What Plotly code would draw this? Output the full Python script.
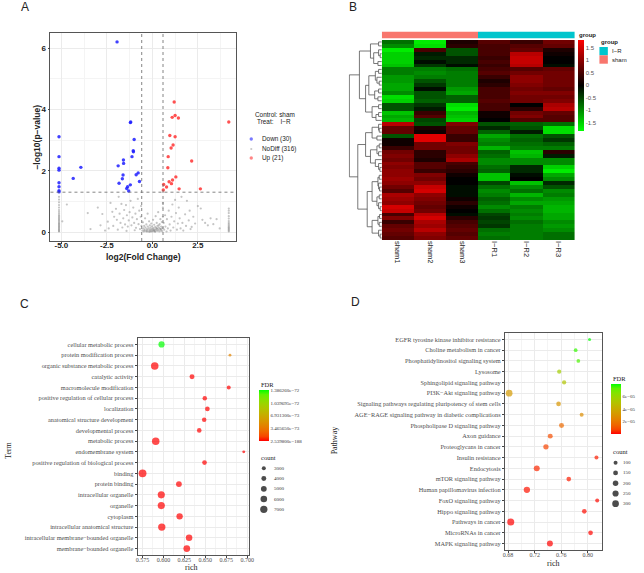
import plotly.graph_objects as go

W, H = 644, 573

# ---------------- Panel A: volcano data ----------------
down_x = [-1.94, -5.13, -5.13, -5.13, -5.13, -5.13, -5.13, -5.13, -5.13, -3.93, -4.35, -1.21, -1.19, -1.0, -1.05,
          -1.04, -1.12, -1.59, -1.58, -1.88, -1.61, -1.65, -0.78, -0.89, -0.71, -1.83, -1.21, -1.36, -1.41, -1.30]
down_y = [6.2, 3.11, 2.46, 2.08, 2.02, 1.61, 1.48, 1.35, 1.31, 2.11, 1.75, 3.57, 3.59, 3.02, 2.65,
          2.62, 2.46, 2.35, 2.24, 2.16, 1.86, 1.74, 1.93, 1.87, 1.65, 1.59, 1.54, 1.48, 1.42, 1.34]
up_x = [1.20, 1.25, 1.09, 1.43, 4.20, 0.96, 1.25, 1.14, 1.03, 0.87, 2.16, 0.85, 1.29, 1.11, 0.92, 0.62, 1.05,
        0.78, 0.60, 1.47, 2.64]
up_y = [4.24, 3.80, 3.74, 3.72, 3.59, 3.15, 3.11, 2.84, 2.74, 2.46, 2.32, 2.10, 1.80, 1.70, 1.64, 1.55, 1.58,
        1.47, 1.37, 1.41, 1.41]
nodiff_x = [-5.13] * 25 + [4.2] * 15 + [
    -4.7, -4.95, -3.55, -3.4, -3.0, -2.85, -2.75, -2.6, -2.45, -2.4, -2.3, -2.2, -2.15, -2.1, -2.0, -1.95, -1.9,
    -1.85, -1.8, -1.75, -1.7, -1.65, -1.6, -1.55, -1.5, -1.45, -1.42, -1.4, -1.35, -1.3, -1.25, -1.2, -1.15, -1.1,
    -1.05, -1.0, -0.97, -0.93, -0.9, -0.85, -0.8, -0.76, -0.72, -0.68, -0.64, -0.62, -0.6,
    -0.55, -0.52, -0.5, -0.47, -0.45, -0.42, -0.4, -0.38, -0.35, -0.33, -0.3, -0.28, -0.26, -0.25, -0.22, -0.2,
    -0.18, -0.16, -0.14, -0.12, -0.1, -0.08, -0.06, -0.04, -0.02, 0.0, 0.02, 0.04, 0.06, 0.08, 0.1, 0.12, 0.14,
    0.16, 0.18, 0.2, 0.22, 0.24, 0.26, 0.28, 0.3, 0.32, 0.34, 0.36, 0.38, 0.4, 0.42, 0.44, 0.46, 0.48, 0.5, 0.52,
    0.54, 0.56, 0.58, 0.58, 0.58,
    -0.3, -0.15, 0.05, 0.15, 0.25, 0.35, 0.45, -0.45, -0.05, 0.1,
    0.62, 0.65, 0.7, 0.72, 0.78, 0.8, 0.85, 0.9, 0.95, 1.0, 1.05, 1.1, 1.15, 1.2, 1.25, 1.3, 1.35, 1.4, 1.45,
    1.5, 1.55, 1.6, 1.65, 1.7, 1.8, 1.85, 1.9, 2.0, 2.05, 2.1, 2.16, 2.25, 2.35, 2.5, 2.66, 2.75, 2.9, 3.05,
    3.2, 3.35, 3.53, 3.7]
nodiff_y = [0.02, 0.04, 0.07, 0.1, 0.13, 0.16, 0.19, 0.22, 0.25, 0.28, 0.31, 0.35, 0.39, 0.43, 0.47, 0.51, 0.55,
            0.6, 0.66, 0.72, 0.8, 0.88, 0.97, 1.06, 1.15] + [
    0.02, 0.05, 0.08, 0.11, 0.14, 0.17, 0.21, 0.25, 0.3, 0.36, 0.44, 0.52, 0.62, 0.7, 0.77] + [
    0.9, 0.35, 0.62, 0.1, 0.8, 0.22, 0.59, 0.05, 0.34, 0.12, 0.95, 0.66, 0.2, 0.5, 0.76, 0.4, 0.08,
    1.15, 0.6, 0.3, 0.92, 0.15, 0.45, 0.72, 0.25, 0.88, 0.04, 0.55, 0.18, 0.38, 0.65, 1.02, 0.22, 0.48,
    0.8, 0.3, 0.06, 0.6, 0.14, 0.42, 1.08, 0.26, 0.7, 0.1, 0.5, 0.85, 0.2,
    0.05, 0.32, 0.12, 0.02, 0.2, 0.08, 0.45, 0.15, 0.03, 0.25, 0.1, 0.06, 0.6, 0.18, 0.02, 0.12,
    0.35, 0.07, 0.22, 0.03, 0.15, 0.09, 0.28, 0.05, 0.19, 0.11, 0.02, 0.4, 0.14, 0.06, 0.24, 0.09, 0.03,
    0.17, 0.52, 0.08, 0.13, 0.3, 0.04, 0.2, 0.1, 0.65, 0.06, 0.15, 0.02, 0.26, 0.11, 0.42, 0.05, 0.18, 0.09, 0.33,
    0.03, 0.14, 0.8, 0.5, 0.95,
    0.02, 0.01, 0.07, 0.01, 0.12, 0.22, 0.1, 0.05, 0.02, 0.04,
    0.3, 0.08, 0.55, 0.18, 0.02, 0.42, 0.12, 0.7, 0.25, 0.05, 0.5, 0.9, 0.15, 0.35, 1.05, 0.62, 0.08, 0.28, 0.8,
    0.45, 0.12, 1.15, 0.3, 0.05, 0.58, 0.2, 1.02, 0.38, 0.7, 0.1, 0.17, 0.5, 0.28, 0.85, 0.77, 0.4, 0.3, 0.22,
    0.45, 0.26, 0.42, 0.12]
n_down, n_nodiff, n_up = 30, 316, 21
fc_cut = 0.585
p_cut = 1.301

# ---------------- Panel B: heatmap data ----------------
samples = ["sham1", "sham2", "sham3", "I\u2212R1", "I\u2212R2", "I\u2212R3"]
groups = ["sham", "sham", "sham", "I\u2212R", "I\u2212R", "I\u2212R"]
heat = [
    [-0.8, -1.7, 0.2, 0.6, 0.4, 0.8],
    [-1.0, -1.6, 0.3, 0.5, 0.6, 0.7],
    [-1.7, 0.5, -0.6, 0.5, 0.7, 0.2],
    [-1.5, -0.2, -0.6, 0.5, 1.3, 0.1],
    [-1.5, -0.3, -0.3, 0.4, 1.4, 0.0],
    [-1.5, -0.1, -0.3, 0.5, 1.4, 0.0],
    [-1.4, -0.4, -0.1, 0.4, 1.3, -0.1],
    [-0.9, -0.9, -0.8, 0.5, 0.6, 0.7],
    [-0.9, -1.0, -0.9, 0.6, 0.8, 0.8],
    [-1.1, -0.9, -0.9, 0.4, 1.0, 0.8],
    [-1.1, -0.6, -0.9, 0.2, 1.0, 0.8],
    [-1.2, -0.4, -0.9, 0.3, 0.9, 0.8],
    [-1.2, -0.1, -1.1, 0.5, 0.8, 0.7],
    [-1.0, -0.6, -1.2, 0.5, 0.9, 0.9],
    [-1.6, -0.6, -0.7, 0.5, 0.8, 0.8],
    [-1.5, -0.7, -0.7, 0.6, 0.8, 0.9],
    [-0.6, -0.4, -1.6, 0.5, 0.0, 1.2],
    [-0.6, -0.2, -1.7, 0.5, 0.3, 1.3],
    [-1.4, 0.4, -1.3, 0.1, 0.8, 0.7],
    [-1.2, 0.6, -1.4, 0.1, 0.9, 0.6],
    [-1.3, -0.5, -1.5, 0.0, 0.6, 0.6],
    [1.3, -0.6, 0.9, -0.6, -0.7, -0.8],
    [0.7, 0.2, 0.7, -0.3, -0.6, -1.6],
    [0.7, 0.1, 0.7, -0.7, -0.2, -1.6],
    [-0.6, 1.6, 0.4, -1.2, -0.8, -0.6],
    [0.1, 1.6, 0.4, -1.0, -0.7, -0.4],
    [0.1, 0.8, 0.9, -0.9, -0.8, -0.7],
    [0.4, 0.8, 0.8, -1.3, -0.9, -0.9],
    [0.8, 0.3, 0.8, -0.7, -1.4, 0.3],
    [0.9, 0.3, 1.0, -0.8, -1.3, -0.2],
    [0.8, 0.2, 1.2, -1.0, -1.0, -1.0],
    [1.0, 0.6, 0.5, -1.0, -1.0, -1.0],
    [0.9, 0.6, 0.4, -0.8, -0.3, -1.5],
    [1.0, 0.4, 0.3, -0.7, -0.3, -1.7],
    [1.0, 0.9, 0.1, -1.4, -0.1, -1.2],
    [1.1, 0.8, 0.0, -1.4, 0.0, -1.0],
    [1.0, 1.0, 0.0, -0.5, -1.4, -0.3],
    [0.8, 1.4, -0.1, -0.8, -1.0, -0.6],
    [0.6, 1.5, -0.1, -1.0, -0.8, -1.0],
    [1.2, 1.0, -0.1, -0.9, -1.3, -0.9],
    [1.1, 0.9, 0.1, -0.7, -1.0, -1.1],
    [1.0, 0.8, 0.3, -0.8, -1.2, -1.2],
    [1.5, 0.7, 0.1, -1.0, -0.9, -1.3],
    [1.4, 0.8, 0.0, -0.8, -1.0, -1.3],
    [0.5, 1.3, -0.1, -0.5, -0.9, -1.2],
    [0.9, 1.5, 0.3, -0.4, -1.0, -1.2],
    [0.4, 1.2, 0.5, -0.5, -0.8, -1.0],
    [0.7, 1.1, 0.6, -0.4, -0.9, -1.1],
    [0.8, 1.3, 0.7, -0.8, -0.9, -1.0],
    [0.7, 1.0, 0.6, -0.9, -0.9, -0.8],
    [0.6, 0.9, 0.7, -0.8, -0.9, -0.8],
]
heat_min, heat_max = -1.83, 1.81
heat_ticks = [-1.5, -1.0, -0.5, 0.0, 0.5, 1.0, 1.5]
heat_ticktext = ["-1.5", "-1", "-0.5", "0", "0.5", "1", "1.5"]
# row dendrogram (height, left, right); leaves are row indices
tree_up = (0.69,
           (0.35, (0.1, 0, 1), (0.25, (0.1, 2, (0.05, 3, 4)), (0.12, 5, 6))),
           (0.5,
            (0.4, (0.2, (0.1, 7, 8), (0.15, 9, (0.08, 10, 11))), (0.22, (0.1, 12, 13), (0.12, 14, 15))),
            (0.3, (0.1, 16, 17), (0.18, (0.1, 18, 19), 20))))
tree_down = (0.74,
             (0.5,
              (0.3, (0.1, 21, (0.08, 22, 23)), (0.15, 24, 25)),
              (0.35, (0.15, (0.08, 26, 27), (0.1, 28, 29)), (0.2, 30, (0.1, 31, (0.06, 32, 33))))),
             (0.45,
              (0.3, (0.12, (0.08, 34, 35), (0.1, 36, (0.07, 37, 38))),
               (0.15, (0.08, 39, 40), (0.1, 41, (0.05, 42, 43)))),
              (0.3, (0.12, (0.07, 44, 45), (0.08, 46, 47)), (0.1, 48, (0.05, 49, 50)))))
tree = (1.0, tree_up, tree_down)

# ---------------- Panel C: GO enrichment ----------------
terms = ["cellular metabolic process", "protein modification process", "organic substance metabolic process",
         "catalytic activity", "macromolecule modification", "positive regulation of cellular process",
         "localization", "anatomical structure development", "developmental process", "metabolic process",
         "endomembrane system", "positive regulation of biological process", "binding", "protein binding",
         "intracellular organelle", "organelle", "cytoplasm", "intracellular anatomical structure",
         "intracellular membrane\u2212bounded organelle", "membrane\u2212bounded organelle"]
go_rich = [0.5978, 0.6793, 0.5897, 0.6341, 0.6778, 0.6493, 0.6524, 0.6486, 0.6427, 0.5909,
           0.6957, 0.6490, 0.5752, 0.6185, 0.5975, 0.5975, 0.6193, 0.5981, 0.6306, 0.6279]
go_count = [5500, 2000, 7300, 4000, 3000, 3500, 3700, 3500, 3600, 7300,
            2100, 3700, 7800, 5000, 6800, 6800, 5700, 7100, 5900, 6200]
go_fdr = [1.38626e-72, 4.2e-73, 1e-150, 1e-95, 1e-90, 1e-100, 1e-98, 1e-97, 1e-96, 1e-160,
          1e-80, 1e-110, 2.5398e-188, 1e-140, 1e-170, 1e-168, 1e-130, 1e-172, 1e-150, 1e-155]
go_fdr_breaks = [2.5398e-188, 3.46565e-73, 6.9313e-73, 1.039695e-72, 1.38626e-72]
go_fdr_labels = ["2.539800e\u2212188", "3.465650e\u221273", "6.931300e\u221273", "1.039695e\u221272",
                 "1.386260e\u221272"]
go_count_breaks = [3000, 4000, 5000, 6000, 7000]
go_ticks = [0.575, 0.600, 0.625, 0.650, 0.675, 0.700]

# ---------------- Panel D: KEGG enrichment ----------------
pathways = ["EGFR tyrosine kinase inhibitor resistance", "Choline metabolism in cancer",
            "Phosphatidylinositol signaling system", "Lysosome", "Sphingolipid signaling pathway",
            "PI3K\u2212Akt signaling pathway", "Signaling pathways regulating pluripotency of stem cells",
            "AGE\u2212RAGE signaling pathway in diabetic complications", "Phospholipase D signaling pathway",
            "Axon guidance", "Proteoglycans in cancer", "Insulin resistance", "Endocytosis",
            "mTOR signaling pathway", "Human papillomavirus infection", "FoxO signaling pathway",
            "Hippo signaling pathway", "Pathways in cancer", "MicroRNAs in cancer", "MAPK signaling pathway"]
kegg_rich = [0.8027, 0.7818, 0.7858, 0.7570, 0.7644, 0.6816, 0.7560, 0.7908, 0.7605, 0.7435,
             0.7370, 0.8131, 0.7232, 0.7714, 0.7083, 0.8142, 0.7948, 0.6840, 0.8042, 0.7430]
kegg_count = [55, 85, 85, 115, 115, 300, 140, 100, 160, 160, 185, 100, 235, 140, 265, 100, 140, 330, 140, 235]
kegg_fdr = [7.97e-5, 7.6e-5, 7.4e-5, 5.6e-5, 5.1e-5, 3.3e-5, 3.1e-5, 2.8e-5, 1.6e-5, 9e-6,
            7e-6, 3e-6, 4e-6, 3e-6, 2e-6, 1e-6, 1.2e-6, 1e-7, 5e-7, 2e-7]
kegg_fdr_breaks = [2e-5, 4e-5, 6e-5]
kegg_fdr_labels = ["2e\u221205", "4e\u221205", "6e\u221205"]
kegg_count_breaks = [100, 150, 200, 250, 300]
kegg_ticks = [0.68, 0.72, 0.76, 0.80]


# ---------------- helpers ----------------
def dx(x0, x1):
    return [x0 / W, x1 / W]


def dy(y0, y1):
    return [1 - y1 / H, 1 - y0 / H]


def px(x):
    return x / W


def py(y):
    return 1 - y / H


def _to_lab(hexc):
    r, g, b = [int(hexc[i:i + 2], 16) / 255 for i in (1, 3, 5)]

    def lin(c):
        return c / 12.92 if c <= 0.04045 else ((c + 0.055) / 1.055) ** 2.4
    r, g, b = lin(r), lin(g), lin(b)
    X = 0.4124 * r + 0.3576 * g + 0.1805 * b
    Y = 0.2126 * r + 0.7152 * g + 0.0722 * b
    Z = 0.0193 * r + 0.1192 * g + 0.9505 * b

    def f(t):
        return t ** (1 / 3) if t > 0.008856 else 7.787 * t + 16 / 116
    fx_, fy_, fz_ = f(X / 0.95047), f(Y), f(Z / 1.08883)
    return 116 * fy_ - 16, 500 * (fx_ - fy_), 200 * (fy_ - fz_)


def _from_lab(L, a, b):
    fy_ = (L + 16) / 116
    fx_ = fy_ + a / 500
    fz_ = fy_ - b / 200

    def finv(t):
        return t ** 3 if t ** 3 > 0.008856 else (t - 16 / 116) / 7.787
    X, Y, Z = 0.95047 * finv(fx_), finv(fy_), 1.08883 * finv(fz_)
    r = 3.2406 * X - 1.5372 * Y - 0.4986 * Z
    g = -0.9689 * X + 1.8758 * Y + 0.0415 * Z
    bb = 0.0557 * X - 0.2040 * Y + 1.0570 * Z

    def gam(c):
        c = min(max(c, 0), 1)
        return 12.92 * c if c <= 0.0031308 else 1.055 * c ** (1 / 2.4) - 0.055
    return "rgb(%d,%d,%d)" % tuple(round(gam(c) * 255) for c in (r, g, bb))


def lab_scale(lo, hi, n=12):
    l1, l2 = _to_lab(lo), _to_lab(hi)
    out = []
    for i in range(n):
        t = i / (n - 1)
        out.append([t, _from_lab(*[l1[k] + (l2[k] - l1[k]) * t for k in range(3)])])
    return out


def sqrt_size(vals, ref_lo, ref_hi, d_lo, d_hi):
    a, b = ref_lo ** 0.5, ref_hi ** 0.5
    return [d_lo + (d_hi - d_lo) * (v ** 0.5 - a) / (b - a) for v in vals]


def dendro(node, xs, ys):
    if isinstance(node, int):
        return float(node), 0.0
    h, L, R = node
    yl, hl = dendro(L, xs, ys)
    yr, hr = dendro(R, xs, ys)
    xs += [hl, h, h, hr, None]
    ys += [yl, yl, yr, yr, None]
    return (yl + yr) / 2, h


fdr_scale = lab_scale("#FF0000", "#00FF00")
SANS = "Liberation Sans, Arial, sans-serif"
SERIF = "Liberation Serif, Times New Roman, serif"

fig = go.Figure()

# ---- A ----
fig.add_trace(go.Scatter(x=nodiff_x, y=nodiff_y, mode="markers", xaxis="x", yaxis="y",
                         marker=dict(size=2.2, color="rgba(140,140,140,0.5)", line=dict(width=0))))
fig.add_trace(go.Scatter(x=down_x, y=down_y, mode="markers", xaxis="x", yaxis="y",
                         marker=dict(size=3.4, color="rgba(30,30,255,0.85)", line=dict(width=0))))
fig.add_trace(go.Scatter(x=up_x, y=up_y, mode="markers", xaxis="x", yaxis="y",
                         marker=dict(size=3.4, color="rgba(255,50,50,0.85)", line=dict(width=0))))

# ---- B ----
fig.add_trace(go.Heatmap(z=heat, x=samples, y=list(range(len(heat))), xaxis="x2", yaxis="y2",
                         colorscale=[[0, "#00FF00"], [0.5, "#000000"], [1, "#FF0000"]],
                         zmin=heat_min, zmax=heat_max,
                         colorbar=dict(x=px(582), xanchor="left", y=py(40), yanchor="top",
                                       len=91, lenmode="pixels", thickness=6, outlinewidth=0,
                                       xpad=0, ypad=0, ticks="", tickvals=heat_ticks,
                                       ticktext=heat_ticktext,
                                       tickfont=dict(family=SANS, size=6, color="#555"))))
group_code = [[0 if g == "sham" else 1 for g in groups]]
fig.add_trace(go.Heatmap(z=group_code, x=samples, y=[0], xaxis="x2", yaxis="y4", showscale=False,
                         zmin=0, zmax=1,
                         colorscale=[[0, "#F8766D"], [0.5, "#F8766D"], [0.5, "#00C5CD"], [1, "#00C5CD"]]))
dxs, dys = [], []
dendro(tree, dxs, dys)
fig.add_trace(go.Scatter(x=dxs, y=dys, mode="lines", xaxis="x3", yaxis="y3",
                         line=dict(color="#555", width=0.8)))

# ---- C ----
fig.add_trace(go.Scatter(x=go_rich, y=terms, mode="markers", xaxis="x5", yaxis="y5",
                         marker=dict(size=sqrt_size(go_count, 3000, 7000, 4.0, 7.3), color=go_fdr,
                                     colorscale=fdr_scale, cmin=min(go_fdr), cmax=max(go_fdr),
                                     line=dict(width=0), showscale=True,
                                     colorbar=dict(x=px(260), xanchor="left", y=py(390), yanchor="top",
                                                   len=51, lenmode="pixels", thickness=10, outlinewidth=0,
                                                   xpad=0, ypad=0, ticks="", tickvals=go_fdr_breaks,
                                                   ticktext=go_fdr_labels,
                                                   tickfont=dict(family=SERIF, size=5, color="#333")))))

# ---- D ----
fig.add_trace(go.Scatter(x=kegg_rich, y=pathways, mode="markers", xaxis="x6", yaxis="y6",
                         marker=dict(size=sqrt_size(kegg_count, 100, 300, 4.0, 6.7), color=kegg_fdr,
                                     colorscale=fdr_scale, cmin=min(kegg_fdr), cmax=max(kegg_fdr),
                                     line=dict(width=0), showscale=True,
                                     colorbar=dict(x=px(616), xanchor="left", y=py(384), yanchor="top",
                                                   len=50, lenmode="pixels", thickness=10, outlinewidth=0,
                                                   xpad=0, ypad=0, ticks="", tickvals=kegg_fdr_breaks,
                                                   ticktext=kegg_fdr_labels,
                                                   tickfont=dict(family=SERIF, size=5, color="#333")))))

# ---- legends drawn on a pixel overlay ----
leg_y_A = [139, 149, 158]
fig.add_trace(go.Scatter(x=[252] * 3, y=leg_y_A, mode="markers", xaxis="x7", yaxis="y7",
                         marker=dict(size=[3.4, 2.2, 3.4],
                                     color=["rgba(30,30,255,0.85)", "rgba(140,140,140,0.7)",
                                            "rgba(255,50,50,0.85)"], line=dict(width=0))))
c_leg_y = [468.3 + 10.25 * i for i in range(len(go_count_breaks))]
fig.add_trace(go.Scatter(x=[264.7] * len(go_count_breaks), y=c_leg_y, mode="markers", xaxis="x7", yaxis="y7",
                         marker=dict(size=sqrt_size(go_count_breaks, 3000, 7000, 4.0, 7.3), color="black",
                                     line=dict(width=0))))
d_leg_y = [462.7 + 10.25 * i for i in range(len(kegg_count_breaks))]
fig.add_trace(go.Scatter(x=[620.3] * len(kegg_count_breaks), y=d_leg_y, mode="markers", xaxis="x7", yaxis="y7",
                         marker=dict(size=sqrt_size(kegg_count_breaks, 100, 300, 4.0, 6.7), color="black",
                                     line=dict(width=0))))

grid_c = "#EBEBEB"
minor_c = "#F4F4F4"
border_c = "#555555"

common_x = dict(showline=True, mirror=True, linecolor=border_c, linewidth=0.8, zeroline=False,
                ticks="outside", ticklen=2, tickcolor="#444", showgrid=True, gridcolor=grid_c, gridwidth=0.8)

layout = dict(
    width=W, height=H, margin=dict(l=0, r=0, t=0, b=0), paper_bgcolor="white", plot_bgcolor="rgba(0,0,0,0)",
    showlegend=False,
    xaxis=dict(domain=dx(49, 237), range=[-5.6, 4.62], anchor="y", tickvals=[-5, -2.5, 0, 2.5],
               ticktext=["-5.0", "-2.5", "0.0", "2.5"], ticklabelstandoff=-6,
               tickfont=dict(family=SANS, size=8, color="#222", weight="bold"),
               minor=dict(tickvals=[-3.75, -1.25, 1.25, 3.75], showgrid=True, gridcolor=minor_c, gridwidth=0.6),
               **common_x),
    yaxis=dict(domain=dy(33, 241), range=[-0.29, 6.49], anchor="x", tickvals=[0, 2, 4, 6],
               ticktext=["0", "2", "4", "6"],
               tickfont=dict(family=SANS, size=8, color="#222", weight="bold"),
               minor=dict(tickvals=[1, 3, 5], showgrid=True, gridcolor=minor_c, gridwidth=0.6),
               **common_x),
    xaxis2=dict(domain=dx(384, 579), anchor="y2", tickangle=90, ticks="", showgrid=False, zeroline=False,
                showline=False, tickfont=dict(family=SANS, size=7.5, color="#222")),
    yaxis2=dict(domain=dy(40, 240), range=[len(heat) - 0.5, -0.5], anchor="x2", visible=False),
    xaxis3=dict(domain=dx(350.5, 384), range=[1.02, 0], anchor="y3", visible=False),
    yaxis3=dict(domain=dy(40, 240), range=[len(heat) - 0.5, -0.5], anchor="x3", visible=False),
    yaxis4=dict(domain=dy(31.5, 38.5), range=[-0.5, 0.5], anchor="x2", visible=False),
    xaxis5=dict(domain=dx(137, 249.5), range=[0.5692, 0.7017], anchor="y5", tickvals=go_ticks,
                ticktext=["%.3f" % t for t in go_ticks], ticklabelstandoff=-3,
                tickfont=dict(family=SERIF, size=6, color="#4D4D4D"),
                minor=dict(tickvals=[0.5875, 0.6125, 0.6375, 0.6625, 0.6875], showgrid=True,
                           gridcolor=minor_c, gridwidth=0.6),
                **common_x),
    yaxis5=dict(domain=dy(338, 555), anchor="x5", type="category", categoryarray=terms,
                range=[len(terms) - 0.4, -0.6], tickfont=dict(family=SERIF, size=6.3, color="#4D4D4D"),
                **common_x),
    xaxis6=dict(domain=dx(508.3, 606.3), range=[0.675, 0.821], anchor="y6", tickvals=kegg_ticks,
                ticktext=["%.2f" % t for t in kegg_ticks], ticklabelstandoff=-3,
                tickfont=dict(family=SERIF, size=6, color="#4D4D4D"),
                minor=dict(tickvals=[0.70, 0.74, 0.78, 0.82], showgrid=True, gridcolor=minor_c, gridwidth=0.6),
                **common_x),
    yaxis6=dict(domain=dy(333, 550), anchor="x6", type="category", categoryarray=pathways,
                range=[len(pathways) - 0.4, -0.6], tickfont=dict(family=SERIF, size=6.3, color="#4D4D4D"),
                **common_x),
    xaxis7=dict(domain=[0, 1], range=[0, W], anchor="y7", visible=False),
    yaxis7=dict(domain=[0, 1], range=[H, 0], anchor="x7", visible=False),
)
fig.update_layout(**layout)

# threshold lines
for xv in (-fc_cut, fc_cut):
    fig.add_shape(type="line", xref="x", yref="y domain", x0=xv, x1=xv, y0=0, y1=1,
                  line=dict(color="#666", width=0.8, dash="dot"))
fig.add_shape(type="line", xref="x domain", yref="y", x0=0, x1=1, y0=p_cut, y1=p_cut,
              line=dict(color="#666", width=0.8, dash="dot"))

# group legend boxes
fig.add_shape(type="rect", xref="paper", yref="paper", x0=px(604), x1=px(612.5), y0=py(55.3), y1=py(47),
              fillcolor="#00C5CD", line=dict(width=0))
fig.add_shape(type="rect", xref="paper", yref="paper", x0=px(604), x1=px(612.5), y0=py(63.7), y1=py(55.3),
              fillcolor="#F8766D", line=dict(width=0))


def ann(text, x, y, size, family=SANS, color="#222", xanchor="center", angle=0, weight="normal"):
    fig.add_annotation(text=text, x=px(x), y=py(y), xref="paper", yref="paper", showarrow=False,
                       xanchor=xanchor, yanchor="middle", textangle=angle,
                       font=dict(family=family, size=size, color=color, weight=weight))


# panel letters
ann("A", 23, 7, 12)
ann("B", 355, 7, 12)
ann("C", 23, 304, 12)
ann("D", 357, 302, 12)

# A titles & legend
ann("log2(Fold Change)", 143, 257, 8.5, weight="bold")
ann("\u2212log10(p\u2212value)", 35, 137, 8.5, angle=-90, weight="bold")
ann("Control: sham", 276, 115, 6.4)
ann("Treat:\u00a0\u00a0\u00a0\u00a0I\u2212R", 275, 122, 6.4)
for lbl, yy in zip(["Down (%d)" % n_down, "NoDiff (%d)" % n_nodiff, "Up (%d)" % n_up], leg_y_A):
    ann(lbl, 261, yy, 6.4, xanchor="left")

# B labels
ann("group", 581, 35, 6, xanchor="left", weight="bold")
ann("group", 604, 42, 6, xanchor="left", weight="bold")
ann("I\u2212R", 615, 51.2, 6, xanchor="left")
ann("sham", 615, 59.5, 6, xanchor="left")

# C titles & legend
ann("Term", 6, 450, 8, family=SERIF, angle=-90)
ann("rich", 191, 567, 8, family=SERIF)
ann("FDR", 260, 384, 6.5, family=SERIF, xanchor="left")
ann("count", 260, 457, 6.5, family=SERIF, xanchor="left")
for c, yy in zip(go_count_breaks, c_leg_y):
    ann(str(c), 273, yy, 5, family=SERIF, xanchor="left", color="#333")

# D titles & legend
ann("Pathway", 336, 440, 8, family=SERIF, angle=-90)
ann("rich", 557, 563, 8, family=SERIF)
ann("FDR", 616, 378, 6.5, family=SERIF, xanchor="left")
ann("count", 616, 451.7, 6.5, family=SERIF, xanchor="left")
for c, yy in zip(kegg_count_breaks, d_leg_y):
    ann(str(c), 625.5, yy, 5, family=SERIF, xanchor="left", color="#333")

fig.write_html("out.html", config={"displayModeBar": False},
               post_script="document.body.style.margin='0px';")
